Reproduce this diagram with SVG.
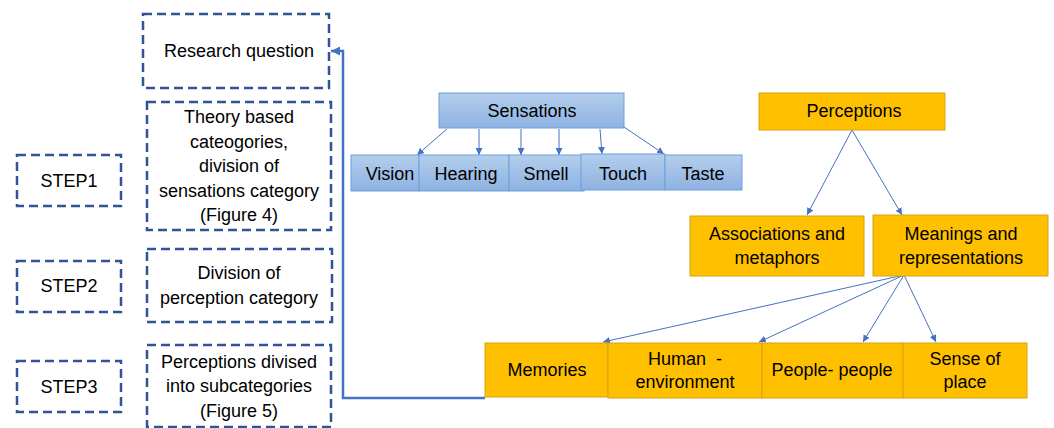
<svg xmlns="http://www.w3.org/2000/svg" width="1054" height="428" viewBox="0 0 1054 428">
<style>
text{font-family:"Liberation Sans",Arial,sans-serif;font-size:18px;fill:#000;text-anchor:middle;white-space:pre}
.dash{fill:#fff;stroke:#2F5597;stroke-width:2.5;stroke-dasharray:9 5}
.blue{fill:url(#bg);stroke:#6A9FD8;stroke-width:1}
.orange{fill:#FFC000;stroke:#D4A417;stroke-width:1}
.thin{fill:none;stroke:#4472C4;stroke-width:1;marker-end:url(#ah)}
.main{fill:none;stroke:#4472C4;stroke-width:2.5;marker-end:url(#ah2)}
</style>
<defs>
<linearGradient id="bg" x1="0" y1="0" x2="0" y2="1">
<stop offset="0" stop-color="#B4CEEC"/>
<stop offset="1" stop-color="#8DB2E2"/>
</linearGradient>
<marker id="ah" viewBox="0 0 10 10" refX="10" refY="5" markerWidth="7" markerHeight="7" markerUnits="userSpaceOnUse" orient="auto">
<path d="M0,0 L10,5 L0,10 z" fill="#4472C4"/>
</marker>
<marker id="ah2" viewBox="0 0 10 10" refX="10" refY="5" markerWidth="9" markerHeight="9" markerUnits="userSpaceOnUse" orient="auto">
<path d="M0,0 L10,5 L0,10 z" fill="#4472C4"/>
</marker>
</defs>
<rect width="1054" height="428" fill="#fff"/>

<g id="connectors">
<polyline class="main" points="485,398 343,398 343,51 331,51"/>
<line class="thin" x1="447" y1="129" x2="417" y2="155"/>
<line class="thin" x1="479" y1="129" x2="479" y2="155"/>
<line class="thin" x1="521" y1="129" x2="521" y2="155"/>
<line class="thin" x1="559" y1="129" x2="559" y2="155"/>
<line class="thin" x1="600" y1="129" x2="602" y2="154"/>
<line class="thin" x1="624" y1="127" x2="664" y2="154"/>
<line class="thin" x1="852" y1="130" x2="807" y2="215"/>
<line class="thin" x1="852" y1="130" x2="902" y2="215"/>
<line class="thin" x1="904" y1="275" x2="603" y2="342"/>
<line class="thin" x1="904" y1="275" x2="759" y2="342"/>
<line class="thin" x1="904" y1="275" x2="863" y2="342"/>
<line class="thin" x1="904" y1="275" x2="936" y2="342"/>
</g>

<g id="research-question">
<rect class="dash" x="143" y="14" width="186" height="74"/>
<text x="239" y="57">Research question</text>
</g>
<g id="theory">
<rect class="dash" x="147" y="102" width="184" height="128"/>
<text x="239" y="123">Theory based</text>
<text x="239" y="148">cateogories,</text>
<text x="239" y="172">division of</text>
<text x="239" y="197">sensations category</text>
<text x="239" y="221">(Figure 4)</text>
</g>
<g id="division">
<rect class="dash" x="147" y="249" width="185" height="73"/>
<text x="239" y="279">Division of</text>
<text x="239" y="304">perception category</text>
</g>
<g id="divised">
<rect class="dash" x="147" y="345" width="184" height="82"/>
<text x="239" y="368">Perceptions divised</text>
<text x="239" y="392">into subcategories</text>
<text x="239" y="417">(Figure 5)</text>
</g>
<g id="step1">
<rect class="dash" x="17" y="155" width="104" height="51"/>
<text x="69" y="187">STEP1</text>
</g>
<g id="step2">
<rect class="dash" x="17" y="261" width="104" height="51"/>
<text x="69" y="292">STEP2</text>
</g>
<g id="step3">
<rect class="dash" x="17" y="361" width="104" height="51"/>
<text x="69" y="393">STEP3</text>
</g>

<g id="sensations">
<rect class="blue" x="439" y="93" width="185" height="35"/>
<text x="532" y="117">Sensations</text>
</g>
<g id="vision">
<rect class="blue" x="351" y="155" width="68" height="36"/>
<text x="390" y="180">Vision</text>
</g>
<g id="hearing">
<rect class="blue" x="419" y="155" width="90" height="36"/>
<text x="466" y="180">Hearing</text>
</g>
<g id="smell">
<rect class="blue" x="509" y="155" width="75" height="36"/>
<text x="546" y="180">Smell</text>
</g>
<g id="touch">
<rect class="blue" x="581" y="154" width="84" height="36"/>
<text x="623" y="180">Touch</text>
</g>
<g id="taste">
<rect class="blue" x="665" y="155" width="77" height="35"/>
<text x="703" y="180">Taste</text>
</g>

<g id="perceptions">
<rect class="orange" x="759" y="93" width="186" height="37"/>
<text x="854" y="117">Perceptions</text>
</g>
<g id="associations">
<rect class="orange" x="690" y="216" width="174" height="60"/>
<text x="777" y="240">Associations and</text>
<text x="777" y="264">metaphors</text>
</g>
<g id="meanings">
<rect class="orange" x="873" y="215" width="175" height="61"/>
<text x="961" y="240">Meanings and</text>
<text x="961" y="264">representations</text>
</g>
<g id="memories">
<rect class="orange" x="485" y="343" width="123" height="54"/>
<text x="547" y="376">Memories</text>
</g>
<g id="human-environment">
<rect class="orange" x="608" y="343" width="154" height="55"/>
<text x="685" y="365">Human  -</text>
<text x="685" y="388">environment</text>
</g>
<g id="people-people">
<rect class="orange" x="762" y="343" width="141" height="55"/>
<text x="832" y="376">People- people</text>
</g>
<g id="sense-of-place">
<rect class="orange" x="903" y="343" width="124" height="55"/>
<text x="965" y="365">Sense of</text>
<text x="965" y="388">place</text>
</g>
</svg>
